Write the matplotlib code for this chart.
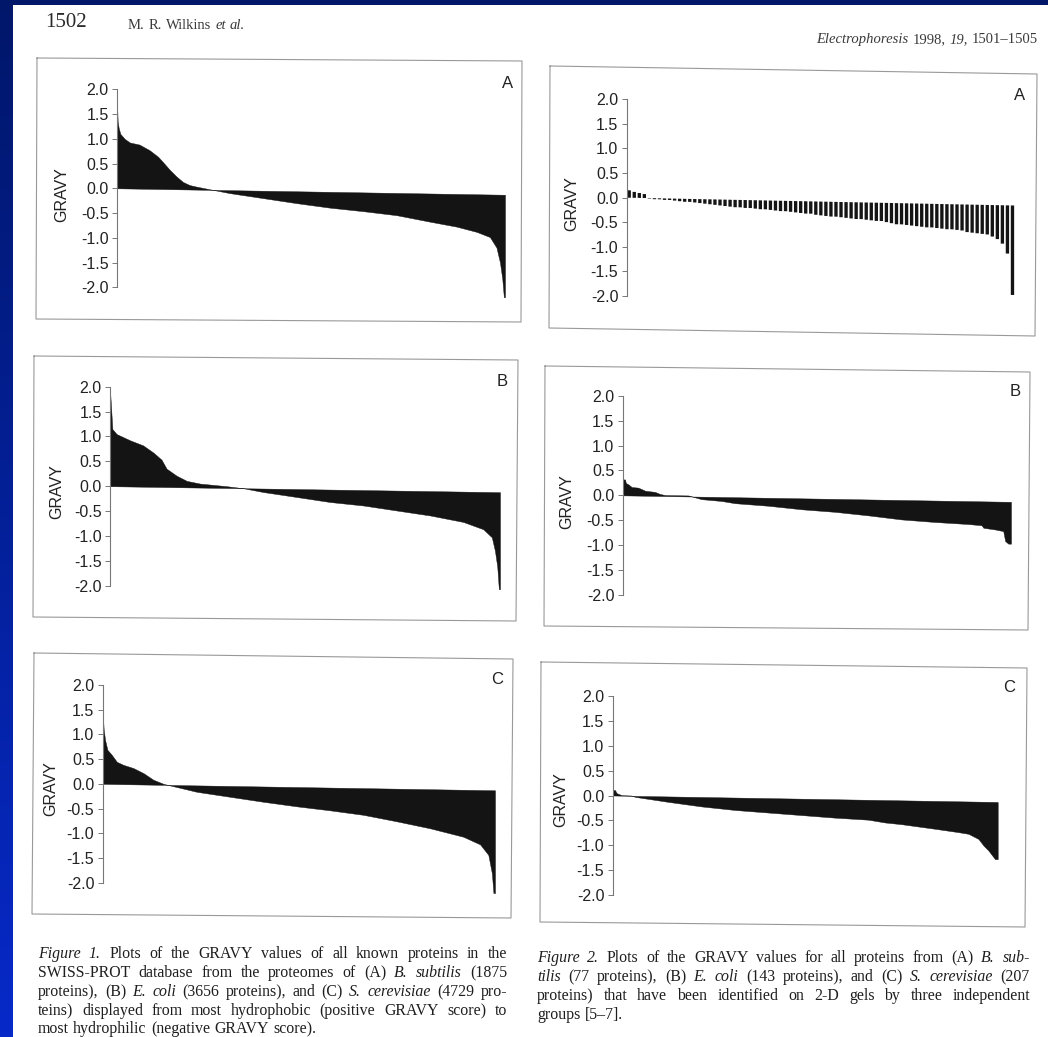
import numpy as np
import matplotlib
matplotlib.use("Agg")
import matplotlib.pyplot as plt
from matplotlib.transforms import Affine2D, IdentityTransform
from matplotlib.lines import Line2D
from matplotlib.patches import Rectangle
from matplotlib.colors import LinearSegmentedColormap

plt.rcParams['axes.unicode_minus'] = False

W, H, DPI = 1048, 1037, 100

# ------------------------------------------------------------------ data
# Figure 1: number of proteins per proteome
fig1_counts = [1875, 3656, 4729]
# Figure 2: number of proteins identified on 2-D gels
fig2_counts = [77, 143, 207]

# Figure 1A  (B. subtilis) sorted GRAVY profile, read at rank fractions
f1a_frac = [0.0, 0.0017, 0.0043, 0.0086, 0.020, 0.033, 0.058, 0.084, 0.106, 0.119,
            0.136, 0.153, 0.170, 0.187, 0.205, 0.226, 0.291, 0.377, 0.463, 0.549,
            0.635, 0.721, 0.807, 0.875, 0.927, 0.961, 0.978, 0.987, 0.993, 0.997, 1.0]
f1a_gravy = [1.75, 1.35, 1.22, 1.10, 1.00, 0.93, 0.89, 0.78, 0.65, 0.54,
             0.39, 0.26, 0.15, 0.09, 0.06, 0.03, -0.06, -0.15, -0.24, -0.32,
             -0.38, -0.45, -0.57, -0.66, -0.76, -0.86, -1.07, -1.37, -1.70, -2.07, -2.07]

# Figure 1B  (E. coli)
f1b_frac = [0.0, 0.0026, 0.006, 0.017, 0.051, 0.085, 0.111, 0.132, 0.145, 0.171,
            0.197, 0.231, 0.299, 0.342, 0.393, 0.479, 0.564, 0.650, 0.735, 0.821,
            0.906, 0.957, 0.979, 0.987, 0.993, 0.997, 1.0]
f1b_gravy = [1.93, 1.60, 1.15, 1.05, 0.93, 0.83, 0.69, 0.55, 0.37, 0.23,
             0.13, 0.08, 0.036, 0.0, -0.07, -0.16, -0.25, -0.31, -0.40, -0.49,
             -0.61, -0.75, -0.91, -1.18, -1.50, -1.95, -1.95]

# Figure 1C  (S. cerevisiae)
f1c_frac = [0.0, 0.0025, 0.006, 0.012, 0.023, 0.036, 0.053, 0.078, 0.104, 0.129,
            0.155, 0.240, 0.325, 0.410, 0.494, 0.579, 0.664, 0.749, 0.834, 0.919,
            0.962, 0.983, 0.992, 0.996, 1.0]
f1c_gravy = [1.46, 1.10, 0.89, 0.69, 0.59, 0.45, 0.39, 0.33, 0.23, 0.10,
             0.02, -0.13, -0.22, -0.31, -0.39, -0.46, -0.54, -0.66, -0.79, -0.95,
             -1.10, -1.31, -1.68, -2.08, -2.08]

# Figure 2A  (B. subtilis, 77 proteins) one value per protein
f2a_gravy = [0.15, 0.12, 0.10, 0.08, -0.01, -0.02, -0.02, -0.03, -0.03, -0.04,
             -0.05, -0.06, -0.06, -0.07, -0.08, -0.09, -0.10, -0.11, -0.12, -0.13,
             -0.14, -0.15, -0.15, -0.16, -0.16, -0.17, -0.18, -0.18, -0.19, -0.20,
             -0.21, -0.21, -0.22, -0.23, -0.24, -0.25, -0.25, -0.27, -0.28, -0.29,
             -0.30, -0.30, -0.31, -0.32, -0.33, -0.34, -0.34, -0.35, -0.36, -0.37,
             -0.37, -0.39, -0.41, -0.43, -0.43, -0.44, -0.45, -0.46, -0.47, -0.48,
             -0.48, -0.49, -0.50, -0.51, -0.51, -0.52, -0.53, -0.56, -0.57, -0.58,
             -0.59, -0.60, -0.64, -0.69, -0.78, -0.98, -1.82]

# Figure 2B  (E. coli, 143 proteins)
f2b_frac = [0.0, 0.006, 0.008, 0.015, 0.023, 0.040, 0.058, 0.083, 0.096, 0.109,
            0.169, 0.203, 0.255, 0.289, 0.375, 0.461, 0.547, 0.633, 0.718, 0.804,
            0.890, 0.924, 0.929, 0.959, 0.980, 0.985, 0.993, 1.0]
f2b_gravy = [0.32, 0.32, 0.25, 0.22, 0.17, 0.16, 0.10, 0.08, 0.04, 0.02,
             0.02, -0.05, -0.08, -0.12, -0.16, -0.22, -0.26, -0.32, -0.39, -0.43,
             -0.46, -0.48, -0.53, -0.56, -0.59, -0.79, -0.84, -0.84]

# Figure 2C  (S. cerevisiae, 207 proteins)
f2c_frac = [0.0, 0.006, 0.010, 0.023, 0.049, 0.058, 0.145, 0.231, 0.318, 0.404,
            0.491, 0.577, 0.664, 0.707, 0.751, 0.837, 0.898, 0.924, 0.950, 0.963,
            0.976, 0.986, 0.993, 1.0]
f2c_gravy = [0.11, 0.11, 0.05, 0.01, 0.006, -0.02, -0.11, -0.19, -0.25, -0.29,
             -0.33, -0.37, -0.40, -0.45, -0.48, -0.56, -0.62, -0.65, -0.75, -0.88,
             -0.98, -1.08, -1.15, -1.15]

ytick_values = [2.0, 1.5, 1.0, 0.5, 0.0, -0.5, -1.0, -1.5, -2.0]
ytick_labels = ["2.0", "1.5", "1.0", "0.5", "0.0", "-0.5", "-1.0", "-1.5", "-2.0"]
panel_letters = ["A", "B", "C"]

caption1 = ["*Figure 1.* Plots of the GRAVY values of all known proteins in the",
            "SWISS-PROT database from the proteomes of (A) *B. subtilis* (1875",
            "proteins), (B) *E. coli* (3656 proteins), and (C) *S. cerevisiae* (4729 pro-",
            "teins) displayed from most hydrophobic (positive GRAVY score) to",
            "most hydrophilic (negative GRAVY score)."]
caption2 = ["*Figure 2.* Plots of the GRAVY values for all proteins from (A) *B. sub-*",
            "*tilis* (77 proteins), (B) *E. coli* (143 proteins), and (C) *S. cerevisiae* (207",
            "proteins) that have been identified on 2-D gels by three independent",
            "groups [5–7]."]

# ------------------------------------------------------------------ layout (pixels)
panels = [
    dict(axx=117, end=505, y2=89.3, ym2=287.3, shear=-0.13, let=(508, 84), lab=(62, 195),
         box=[(37, 58), (522, 61), (521, 322), (36, 319)]),
    dict(axx=110, end=500, y2=386.7, ym2=585.7, shear=-0.12, let=(502, 381), lab=(57, 492),
         box=[(34, 356), (518, 360), (516, 621), (33, 617)]),
    dict(axx=102.7, end=495, y2=685, ym2=882.7, shear=-0.13, let=(497, 679), lab=(51, 789),
         box=[(34, 653), (513, 659), (511, 918), (32, 914)]),
    dict(axx=626.7, end=1015, y2=99.3, ym2=296, shear=-0.16, let=(1020, 95), lab=(572, 204),
         box=[(550, 66), (1037, 74), (1035, 336), (549, 328)]),
    dict(axx=622.7, end=1011, y2=395.7, ym2=595, shear=-0.13, let=(1015, 391), lab=(567, 502),
         box=[(545, 366), (1030, 372), (1028, 630), (544, 626)]),
    dict(axx=612.7, end=997.7, y2=696, ym2=895, shear=-0.13, let=(1009, 688), lab=(561, 800),
         box=[(541, 662), (1027, 668), (1025, 927), (540, 922)]),
]

YLO, YHI = -2.4, 2.2
INK = '#141414'
SANS = 'Liberation Sans'
SERIF = 'Liberation Serif'

fig = plt.figure(figsize=(W / DPI, H / DPI), dpi=DPI)

# background: blue slide behind the scanned page
bg = fig.add_axes([0, 0, 1, 1], zorder=-10)
grad = np.linspace(0, 1, 256).reshape(-1, 1)
cmap = LinearSegmentedColormap.from_list('slide', ['#00176a', '#0729c8'])
bg.imshow(grad, aspect='auto', cmap=cmap, extent=[0, 1, 0, 1], origin='upper')
bg.add_patch(Rectangle((13 / W, 0), 1 - 13 / W, 1 - 5 / H, facecolor='white', edgecolor='none'))
bg.set_xlim(0, 1); bg.set_ylim(0, 1)
bg.axis('off')


def fx(x):
    return x / W


def fy(y):
    return 1 - y / H


series = [
    ('fill', fig1_counts[0], f1a_frac, f1a_gravy),
    ('fill', fig1_counts[1], f1b_frac, f1b_gravy),
    ('fill', fig1_counts[2], f1c_frac, f1c_gravy),
    ('bar', fig2_counts[0], None, f2a_gravy),
    ('fill', fig2_counts[1], f2b_frac, f2b_gravy),
    ('fill', fig2_counts[2], f2c_frac, f2c_gravy),
]

for i, (p, (kind, n, frac, vals)) in enumerate(zip(panels, series)):
    ppu = (p['ym2'] - p['y2']) / 4.0
    top = p['y2'] - (YHI - 2.0) * ppu
    bot = p['ym2'] + (-2.0 - YLO) * ppu
    ax = fig.add_axes([fx(p['axx']), fy(bot), (p['end'] - p['axx']) / W, (bot - top) / H])
    ax.patch.set_alpha(0)
    ax.set_xlim(0, n)
    ax.set_ylim(YLO, YHI)
    tr = Affine2D().skew(0, np.arctan(p['shear'] / n)) + ax.transData
    if kind == 'fill':
        xs = np.asarray(frac) * n
        ax.fill_between(xs, vals, 0, facecolor=INK, edgecolor=INK, lw=0.3, transform=tr)
    else:
        pos = np.arange(len(vals)) + 0.5
        ax.bar(pos, vals, width=0.66, color=INK, lw=0, transform=tr)
    for s in ['top', 'right', 'bottom']:
        ax.spines[s].set_visible(False)
    ax.spines['left'].set_bounds(-2.0, 2.0)
    ax.spines['left'].set_color('#777777')
    ax.spines['left'].set_linewidth(0.8)
    ax.set_xticks([])
    ax.set_yticks(ytick_values)
    ax.set_yticklabels(ytick_labels, fontfamily=SANS, fontsize=11.5, color='#222222')
    ax.tick_params(axis='y', direction='out', length=3.5, width=0.7, color='#777777', pad=2.5)
    fig.text(fx(p['let'][0]), fy(p['let'][1]), panel_letters[i % 3], ha='center', va='center',
             fontsize=12, family=SANS, color='#222222')
    fig.text(fx(p['lab'][0]), fy(p['lab'][1]), 'GRAVY', rotation=90, ha='center', va='center',
             fontsize=11.5, family=SANS, color='#222222')
    bx = [c[0] for c in p['box']] + [p['box'][0][0]]
    by = [c[1] for c in p['box']] + [p['box'][0][1]]
    fig.add_artist(Line2D([fx(v) for v in bx], [fy(v) for v in by], color='#999999', lw=0.8))

renderer = fig.canvas.get_renderer()


def parse(line):
    out, it = [], False
    for w in line.split(' '):
        if w.startswith('*'):
            it = True
            w = w[1:]
        end = w.endswith('*')
        if end:
            w = w[:-1]
        out.append((w, it))
        if end:
            it = False
    return out


def put_line(line, x0, x1, ybase, size, justify=True, color='#1e1e1e', align='left'):
    words = parse(line)
    ts, ws = [], []
    for w, it in words:
        t = fig.text(0, 0, w, transform=IdentityTransform(), fontsize=size, family=SERIF,
                     style='italic' if it else 'normal', ha='left', va='baseline', color=color)
        ws.append(t.get_window_extent(renderer).width)
        ts.append(t)
    if justify and len(ts) > 1:
        gap = (x1 - x0 - sum(ws)) / (len(ts) - 1)
    else:
        gap = size * DPI / 72 * 0.27
    total = sum(ws) + gap * (len(ts) - 1)
    x = x0 if align == 'left' else x1 - total
    for t, w in zip(ts, ws):
        t.set_position((x, H - ybase))
        x += w + gap


# header
put_line("1502", 45, 0, 27, 15, justify=False, color='#2a2a2a')
put_line("M. R. Wilkins *et al.*", 128, 0, 29, 10.5, justify=False, color='#3a3a3a')
put_line("*Electrophoresis* 1998, *19,* 1501–1505", 0, 1038, 43, 10.5, justify=False,
         color='#3a3a3a', align='right')

# captions
cap_size = 11.4
for k, (line, yb) in enumerate(zip(caption1, [958, 977, 996, 1015, 1033])):
    put_line(line, 38, 507, yb, cap_size, justify=(k < len(caption1) - 1))
for k, (line, yb) in enumerate(zip(caption2, [962, 981, 1000, 1019])):
    put_line(line, 537, 1030, yb, cap_size, justify=(k < len(caption2) - 1))

fig.savefig('out.png', dpi=DPI)
